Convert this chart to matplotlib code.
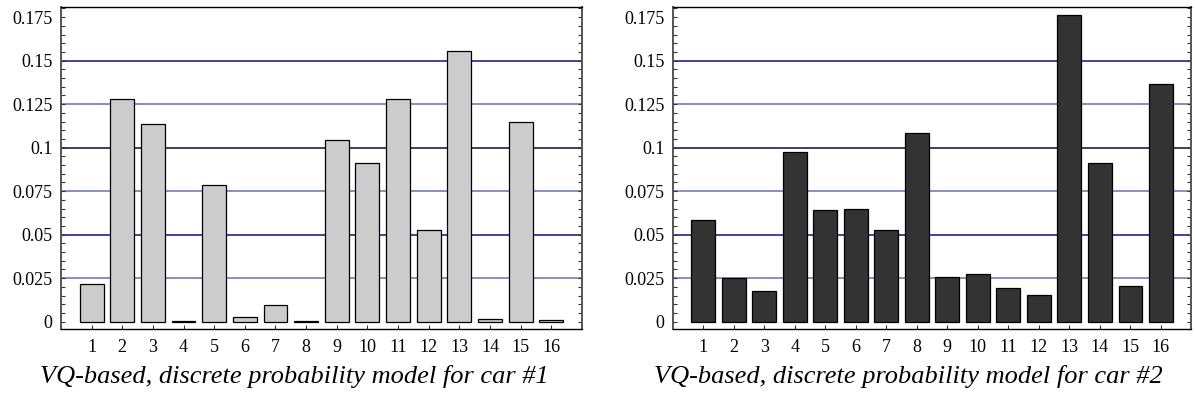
import matplotlib.pyplot as plt
from matplotlib.ticker import MultipleLocator, FixedLocator, FuncFormatter

plt.rcParams['font.family'] = ['Liberation Serif', 'DejaVu Serif']

# codebook indices and probabilities for the two cars
codewords = list(range(1, 17))
car1 = [0.0214, 0.1277, 0.1134, 0.0006, 0.0783, 0.0029, 0.0095, 0.0004,
        0.1046, 0.0909, 0.1279, 0.0525, 0.1554, 0.0013, 0.1145, 0.0008]
car2 = [0.0586, 0.0248, 0.0177, 0.0977, 0.0643, 0.0647, 0.0527, 0.1082,
        0.0258, 0.0273, 0.0191, 0.0151, 0.1760, 0.0909, 0.0202, 0.1367]
captions = ['VQ-based, discrete probability model for car #1',
            'VQ-based, discrete probability model for car #2']
yticks = [0, 0.025, 0.05, 0.075, 0.1, 0.125, 0.15, 0.175]

# horizontal guide lines: light / dark blue alternation, 0.1 nearly black
grid_levels = [0.025, 0.05, 0.075, 0.1, 0.125, 0.15]
grid_colors = ['#6e6eb4', '#10108a', '#6e6eb4', '#0a0a40', '#6e6eb4', '#10108a']


def fmt(v, pos):
    if abs(v) < 1e-9:
        return '0'
    return ('%.3f' % v).rstrip('0')


fig = plt.figure(figsize=(11.95, 4.04), dpi=100)
boxes = [[0.051, 0.185, 0.436, 0.797], [0.563, 0.185, 0.434, 0.797]]
cap_x = [0.2465, 0.760]

for box, vals, color, cap, cx in zip(boxes, [car1, car2], ['#cccccc', '#333333'],
                                     captions, cap_x):
    ax = fig.add_axes(box)
    for lvl, c in zip(grid_levels, grid_colors):
        ax.axhline(lvl, color=c, lw=1.1, zorder=0)
    ax.bar(codewords, vals, width=0.78, color=color, edgecolor='black',
           linewidth=0.9, zorder=2)
    ax.set_xlim(0, 17)
    ax.set_ylim(-0.0044, 0.1807)
    ax.xaxis.set_major_locator(FixedLocator(codewords))
    ax.yaxis.set_major_locator(FixedLocator(yticks))
    ax.yaxis.set_minor_locator(MultipleLocator(0.005))
    ax.yaxis.set_major_formatter(FuncFormatter(fmt))
    ax.tick_params(axis='y', which='both', direction='in', left=True, right=True,
                   length=3, width=0.8, color='#333333', labelsize=13, pad=6)
    ax.tick_params(axis='x', which='both', direction='in', top=False,
                   length=3, width=0.8, color='#333333', labelsize=13, pad=7)
    for s in ['top', 'bottom']:
        ax.spines[s].set_linewidth(1.0)
        ax.spines[s].set_color('black')
    for s in ['left', 'right']:
        ax.spines[s].set_linewidth(1.4)
        ax.spines[s].set_color('#555555')
    fig.text(cx, 0.052, cap, ha='center', va='baseline', fontsize=19,
             style='italic')

fig.savefig('out.png', dpi=100)
